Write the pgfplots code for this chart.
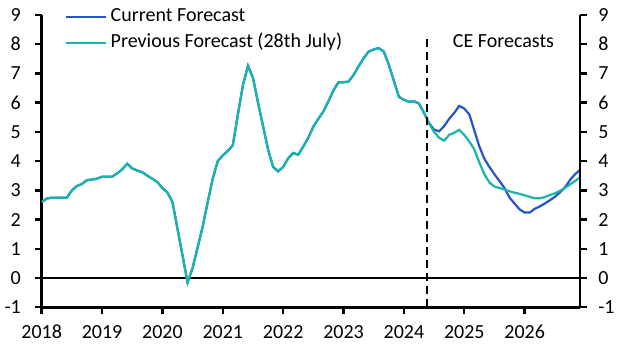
\documentclass[border=0pt]{standalone}
\usepackage{fontspec}
\setmainfont{Carlito}
\usepackage{pgfplots}
\usepackage{pgfplotstable}
\pgfplotsset{compat=1.18}
\definecolor{curblue}{RGB}{35,85,205}
\definecolor{prevteal}{RGB}{25,180,170}
\pgfplotstableread{
m cur prev
0 2.60 2.60
1 2.72 2.72
2 2.75 2.75
3 2.75 2.75
4 2.75 2.75
5 2.75 2.75
6 3.00 3.00
7 3.15 3.15
8 3.22 3.22
9 3.35 3.35
10 3.37 3.37
11 3.40 3.40
12 3.47 3.47
13 3.47 3.47
14 3.47 3.47
15 3.58 3.58
16 3.72 3.72
17 3.91 3.91
18 3.75 3.75
19 3.68 3.68
20 3.62 3.62
21 3.50 3.50
22 3.40 3.40
23 3.28 3.28
24 3.08 3.08
25 2.93 2.93
26 2.60 2.60
27 1.68 1.68
28 0.77 0.77
29 -0.15 -0.15
30 0.35 0.35
31 1.05 1.05
32 1.76 1.76
33 2.60 2.60
34 3.40 3.40
35 4.00 4.00
36 4.20 4.20
37 4.35 4.35
38 4.55 4.55
39 5.60 5.60
40 6.60 6.60
41 7.26 7.26
42 6.85 6.85
43 6.00 6.00
44 5.20 5.20
45 4.40 4.40
46 3.80 3.80
47 3.65 3.65
48 3.80 3.80
49 4.10 4.10
50 4.28 4.28
51 4.22 4.22
52 4.50 4.50
53 4.80 4.80
54 5.18 5.18
55 5.45 5.45
56 5.70 5.70
57 6.05 6.05
58 6.42 6.42
59 6.70 6.70
60 6.70 6.70
61 6.72 6.72
62 6.95 6.95
63 7.25 7.25
64 7.52 7.52
65 7.75 7.75
66 7.82 7.82
67 7.87 7.87
68 7.75 7.75
69 7.30 7.30
70 6.75 6.75
71 6.20 6.20
72 6.10 6.10
73 6.03 6.03
74 6.05 6.05
75 5.97 5.97
76 5.65 5.65
77 5.30 5.30
78 5.08 5.00
79 5.02 4.80
80 5.20 4.70
81 5.45 4.90
82 5.65 4.97
83 5.89 5.07
84 5.80 4.90
85 5.60 4.67
86 5.05 4.40
87 4.50 3.95
88 4.08 3.55
89 3.80 3.27
90 3.55 3.13
91 3.32 3.08
92 3.08 3.03
93 2.75 2.97
94 2.55 2.92
95 2.35 2.88
96 2.24 2.83
97 2.24 2.78
98 2.37 2.73
99 2.45 2.73
100 2.55 2.77
101 2.66 2.84
102 2.78 2.90
103 2.93 2.98
104 3.10 3.08
105 3.35 3.20
106 3.55 3.32
107 3.70 3.44
}\data
\pgfplotsset{
  mybase/.style={
    at={(0,0)}, anchor=south west,
    scale only axis, width=538.3pt, height=292.3pt,
    xmin=2018, xmax=2026.917, ymin=-1, ymax=9,
    axis line style={line width=2.6pt, -},
    ytick={-1,0,...,9},
    tick align=outside, major tick length=7pt,
    every tick/.style={black, line width=2.4pt},
    /pgf/number format/assume math mode=true,
  }
}
\begin{document}
\fontsize{20}{24}\selectfont
\begin{tikzpicture}
\useasboundingbox (-41.7pt,-44.7pt) rectangle (585.3pt,307.3pt);
\begin{axis}[mybase,
  axis x line*=bottom, axis y line*=left,
  xtick={2018,2019,2020,2021,2022,2023,2024,2025,2026},
  xticklabels={2018,2019,2020,2021,2022,2023,2024,2025,2026},
  xticklabel style={yshift=-4pt},
  yticklabel style={xshift=-7pt},
  legend style={draw=none, fill=none, at={(rel axis cs:0.043,1.038)}, anchor=north west,
    inner sep=0pt, row sep=0pt,
    nodes={inner xsep=3.5pt, inner ysep=4.5pt, text height=13pt, text depth=4pt}},
  legend cell align=left,
  legend image code/.code={\draw[#1] (0pt,0pt) -- (40pt,0pt);},
]
\addplot[black, line width=2.6pt, forget plot] coordinates {(2018,0) (2026.917,0)};
\addplot[curblue, line width=2.2pt] table[x expr=2018+\thisrow{m}/12, y=cur] {\data};
\addlegendentry{Current Forecast}
\addplot[prevteal, line width=2.2pt] table[x expr=2018+\thisrow{m}/12, y=prev] {\data};
\addlegendentry{Previous Forecast (28th July)}
\draw[black, line width=1.8pt, dash pattern=on 8pt off 5pt] (axis cs:2024.38,-1) -- (axis cs:2024.38,8.32);
\node[anchor=center, inner sep=0pt] at (axis cs:2025.65,8.1) {CE Forecasts};
\end{axis}
\begin{axis}[mybase,
  axis x line=none, axis y line*=right,
  yticklabel style={xshift=4.5pt},
]
\end{axis}
\end{tikzpicture}
\end{document}
